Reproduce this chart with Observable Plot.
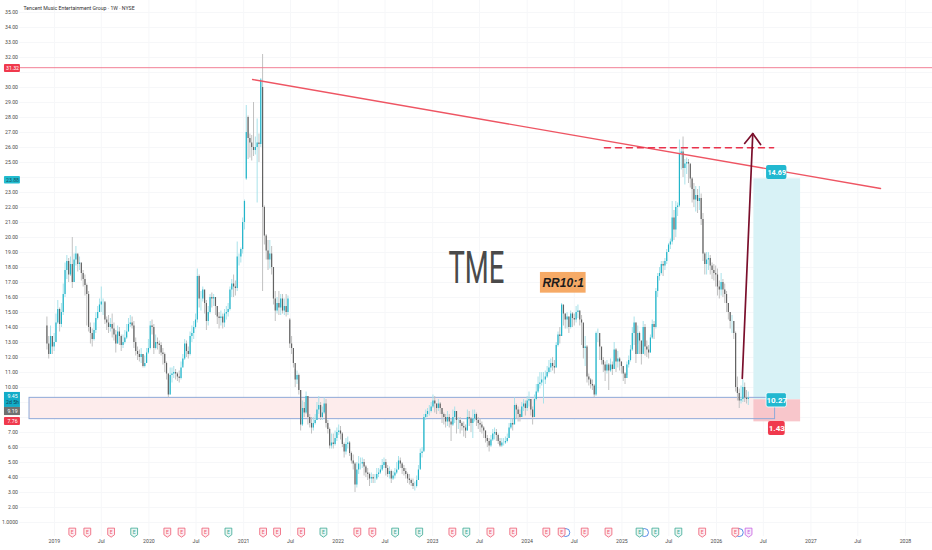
<!DOCTYPE html>
<html><head><meta charset="utf-8">
<script src="https://cdn.jsdelivr.net/npm/d3@7"></script>
<script src="https://cdn.jsdelivr.net/npm/@observablehq/plot@0.6"></script>
<style>html,body{margin:0;padding:0;background:#fff}svg{display:block}</style>
</head><body><div id="chart"></div>
<script>
const closes = [
12.9,12.2,13.4,12.7,13.0,14.3,15.2,14.2,15.0,16.2,
17.8,18.4,17.5,18.2,17.0,18.5,18.9,18.2,18.3,17.6,
17.2,16.8,16.2,14.0,13.6,13.2,13.8,14.6,15.0,15.5,
15.7,15.7,14.5,14.3,14.0,14.2,13.9,13.5,12.9,13.7,
13.4,12.8,13.0,13.3,13.7,14.2,14.3,14.1,13.0,12.4,
12.2,12.0,12.2,11.4,11.6,12.3,12.6,14.1,14.0,12.6,
13.0,12.9,12.8,12.3,12.2,11.6,10.9,9.5,10.8,10.9,
11.0,10.9,10.7,10.6,11.3,11.9,12.9,12.4,12.2,13.4,
13.6,14.0,14.5,17.4,15.9,15.9,16.5,15.6,14.4,15.0,
16.0,15.9,16.0,15.4,14.7,14.6,14.7,14.3,14.9,15.0,
15.2,16.5,16.9,16.7,16.6,18.7,18.7,19.2,21.0,22.4,
27.0,26.6,26.3,26.0,25.8,26.0,26.3,26.2,30.5,22.0,
20.1,19.1,18.5,18.9,18.0,15.9,15.1,15.6,15.3,15.9,
15.1,15.4,15.0,15.9,12.9,12.6,11.6,10.5,10.8,9.8,
7.5,8.6,8.3,9.4,8.0,7.6,7.3,7.6,7.8,8.5,
8.8,8.0,8.3,8.9,7.6,7.2,6.1,6.3,6.2,6.6,
7.0,7.1,6.9,6.2,5.7,6.2,6.3,5.6,5.1,4.9,
3.5,4.5,4.9,4.9,5.0,4.7,4.3,4.2,3.9,4.0,
3.9,3.9,4.2,4.3,4.5,4.8,5.0,4.6,4.2,4.4,
3.9,4.1,4.3,4.5,5.1,4.9,4.6,4.4,4.2,3.9,
3.8,3.6,3.4,3.4,3.8,4.5,5.6,5.7,8.0,8.2,
8.4,8.4,8.7,9.1,8.9,8.6,8.9,8.6,8.2,8.0,
7.7,8.0,7.7,7.5,8.0,8.4,7.8,7.8,7.6,7.4,
7.3,7.1,8.0,7.9,7.6,7.9,8.2,7.8,7.6,7.5,
7.3,7.1,6.6,6.4,6.1,6.5,6.9,7.0,6.8,6.4,
6.1,6.3,6.3,6.4,6.6,7.3,7.6,7.5,8.8,8.5,
8.2,8.0,8.7,8.9,8.6,9.1,9.2,8.5,8.0,9.2,
9.7,10.2,10.3,10.5,10.5,10.7,11.0,11.3,11.6,11.4,
11.3,12.8,13.5,13.4,15.5,14.9,14.5,14.7,14.0,14.9,
14.6,14.5,15.0,15.1,14.5,14.3,12.6,12.7,10.7,10.5,
10.2,10.1,9.5,13.6,13.6,12.7,11.8,11.5,11.1,11.5,
11.1,11.5,11.2,12.5,11.7,11.9,11.7,11.4,10.9,10.6,
11.5,11.8,12.5,13.6,14.3,12.2,13.6,13.1,12.2,14.0,
12.7,12.5,12.3,13.3,14.2,14.0,16.4,17.4,17.6,18.2,
18.1,18.4,19.0,19.5,19.7,21.3,20.5,22.0,22.1,25.6,
25.7,24.6,24.9,25.0,24.9,23.9,23.2,22.5,22.8,22.4,
22.6,21.2,18.9,18.2,18.5,18.6,18.1,17.8,17.6,17.5,
16.7,16.5,17.0,16.5,16.2,15.6,15.0,14.4,14.4,13.6,
10.0,9.6,9.1,9.2,10.0,9.3,9.2,9.3];
const highs = [
14.7,13.4,14.1,13.4,13.6,14.9,15.8,15.3,15.6,16.9,
18.3,18.8,18.6,18.7,20.0,18.9,19.4,18.8,18.7,18.2,
17.8,17.5,16.9,16.4,14.3,13.9,14.3,15.0,15.4,15.9,
16.7,15.9,15.6,14.7,14.8,14.6,14.9,14.3,13.8,14.1,
14.0,13.5,13.5,13.8,14.2,14.6,14.8,14.7,14.4,13.3,
12.7,12.5,12.6,12.2,12.1,12.6,13.2,14.4,14.5,14.2,
13.5,13.3,13.1,13.0,12.6,12.3,11.7,10.9,11.3,11.3,
11.4,11.2,11.0,11.1,11.7,12.2,13.2,13.1,12.7,13.7,
14.1,14.4,14.9,17.9,17.5,16.4,16.7,16.3,15.8,15.4,
16.2,16.3,16.2,16.0,15.4,15.0,15.1,14.9,15.2,15.4,
15.6,16.7,17.2,17.5,17.1,19.7,18.9,19.3,21.3,22.5,
28.8,28.1,26.9,26.8,29.0,26.7,27.9,26.9,30.6,32.2,
22.1,20.2,19.8,19.8,19.4,17.9,16.4,16.0,16.4,16.2,
16.2,15.9,16.2,16.1,14.6,13.4,12.3,11.2,11.1,10.9,
9.8,9.1,9.0,9.7,9.4,8.2,8.0,8.0,8.2,9.0,
9.4,9.0,8.7,9.3,9.2,7.8,7.3,6.9,6.9,7.1,
7.3,7.5,7.4,7.0,6.3,6.6,6.7,6.4,5.7,5.5,
5.0,5.0,5.4,5.3,5.3,5.2,4.8,4.6,4.3,4.3,
4.2,4.2,4.6,4.6,4.8,5.2,5.3,5.2,4.8,4.7,
4.5,4.4,4.6,5.0,5.4,5.3,5.0,4.8,4.6,4.3,
4.2,3.9,3.9,3.7,4.1,4.8,5.9,6.0,8.2,8.5,
8.6,8.8,9.0,9.5,9.4,8.9,9.2,9.0,8.6,8.3,
8.2,8.4,8.2,7.9,8.5,8.7,8.4,8.0,8.0,7.7,
7.7,7.5,8.5,8.4,8.0,8.5,8.5,8.3,8.0,7.9,
7.7,7.4,7.1,6.8,6.6,6.8,7.2,7.3,7.2,6.9,
6.6,6.6,6.6,6.7,6.9,7.6,7.9,7.9,9.3,8.9,
8.7,8.5,9.0,9.2,9.1,9.4,9.7,9.2,8.7,9.5,
10.2,10.7,11.0,11.0,11.0,11.1,11.4,11.8,11.9,12.0,
11.8,13.0,13.7,14.0,15.6,15.3,14.9,15.0,14.7,15.1,
15.0,14.9,15.4,15.5,15.1,14.8,14.0,13.4,12.8,10.9,
10.6,10.5,10.2,13.7,13.9,13.2,12.6,12.0,11.7,11.8,
11.6,11.9,11.7,13.0,12.6,12.4,12.0,11.7,11.4,11.0,
11.7,12.1,12.8,14.0,14.7,14.3,14.1,13.7,12.9,14.4,
14.2,13.1,12.8,13.5,14.5,14.4,16.6,17.6,18.0,18.4,
18.4,18.6,19.2,19.6,19.9,22.4,21.8,22.4,22.3,26.5,
25.9,26.7,25.2,25.3,25.2,24.8,24.0,23.6,23.4,23.2,
23.4,22.9,21.6,19.0,19.0,19.0,18.8,18.3,18.2,18.1,
17.9,17.1,17.6,17.2,16.9,16.4,15.6,15.0,14.8,14.4,
13.7,10.7,9.9,10.1,10.5,10.3,9.8,9.7];
const lows = [
12.5,11.9,12.2,12.2,12.4,13.0,14.2,13.7,14.0,14.8,
16.0,17.2,17.0,17.4,16.6,17.0,18.1,17.7,17.8,17.1,
16.7,16.1,14.1,13.7,12.9,12.7,13.1,13.6,14.5,15.0,
15.0,14.8,14.2,13.8,13.6,13.7,13.3,13.1,12.3,12.9,
12.8,12.4,12.6,12.9,13.2,13.7,14.0,13.9,12.6,12.1,
11.8,11.7,11.6,11.3,11.3,11.7,12.2,12.5,13.5,12.2,
12.5,12.5,12.2,12.1,11.5,11.0,10.5,9.3,9.5,10.3,
10.6,10.5,10.4,10.3,10.5,11.5,11.8,12.0,11.9,12.1,
13.0,13.2,13.9,14.3,15.3,15.1,15.7,14.9,13.8,14.1,
14.9,15.3,15.4,14.8,14.2,13.9,14.1,13.9,14.0,14.5,
14.7,15.1,16.0,16.0,16.1,16.4,18.1,18.3,18.9,20.5,
23.8,25.2,25.3,25.1,25.4,25.5,22.3,25.0,26.0,16.4,
19.5,18.5,17.8,17.9,17.5,15.5,14.4,14.9,14.8,14.8,
14.9,14.8,14.7,14.8,12.6,12.2,11.3,10.0,10.2,9.5,
7.1,7.4,8.0,8.2,7.5,7.3,6.9,7.1,7.5,7.8,
8.2,7.8,7.8,8.2,7.3,6.9,5.9,5.9,5.9,6.1,
6.4,6.8,6.5,6.0,5.3,5.5,5.9,5.4,4.9,4.5,
3.0,3.3,4.2,4.5,4.6,4.1,4.0,3.8,3.4,3.6,
3.6,3.6,3.8,4.0,4.2,4.4,4.6,4.1,4.0,3.9,
3.6,3.8,3.9,4.2,4.5,4.6,4.2,4.1,3.9,3.6,
3.5,3.4,3.2,3.1,3.3,3.8,4.6,5.3,5.8,7.8,
8.0,8.1,8.3,8.6,8.3,8.2,8.4,8.2,7.6,7.5,
7.3,7.4,7.3,6.4,7.4,7.6,6.9,7.2,6.9,7.1,
6.7,6.6,7.1,7.4,7.0,6.6,7.7,7.4,7.2,7.0,
6.9,6.6,6.3,6.0,5.7,6.0,6.4,6.5,6.4,6.2,
6.0,6.0,6.1,6.2,6.3,6.6,7.2,7.1,7.6,7.9,
7.7,7.7,8.0,8.4,8.1,8.4,8.7,8.1,7.5,8.0,
9.1,9.6,9.9,10.1,8.9,10.2,10.6,10.9,11.0,11.1,
10.9,11.3,12.7,12.9,13.6,14.1,13.9,13.9,13.6,13.9,
14.0,14.1,14.3,14.6,14.1,12.8,11.9,11.4,10.3,10.1,
9.9,9.8,9.3,9.4,13.0,11.8,11.5,11.0,10.4,10.9,
9.8,11.0,10.8,11.2,11.0,11.3,11.1,10.9,10.4,10.2,
10.8,11.3,11.7,12.4,12.8,11.6,12.9,12.2,11.5,12.3,
12.1,12.0,11.9,12.3,13.2,13.2,13.9,16.0,17.1,17.5,
17.4,17.8,18.2,19.0,19.2,19.5,19.8,20.0,21.4,22.0,
24.5,24.0,23.5,24.2,23.6,23.3,22.3,22.0,21.7,21.6,
21.8,20.8,18.4,17.5,17.5,17.8,17.5,17.2,17.1,16.7,
16.1,15.9,16.1,16.0,15.6,15.0,14.5,13.9,13.6,13.2,
9.7,9.1,8.6,8.9,9.0,9.0,8.9,8.8];
const gapBars = [110,111,119,134];
const gapOpens = [23.9,28.0,30.0,14.5];

const priceTicks = [1,2,3,4,5,6,7,10,11,12,13,14,15,16,17,18,19,20,21,22,23,25,26,27,28,29,30,32,33,34,35];
const gridPrices = d3.range(1, 36);
const timeTickDates = ["2019-01-01","2019-07-01","2020-01-01","2020-07-01","2021-01-01","2021-07-01","2022-01-01","2022-07-01","2023-01-01","2023-07-01","2024-01-01","2024-07-01","2025-01-01","2025-07-01","2026-01-01","2026-07-01","2027-01-01","2027-07-01","2028-01-01"];

const earningsDates = ["2019-03-11","2019-05-08","2019-08-08","2019-11-05","2020-03-12","2020-05-06","2020-08-06","2020-11-03","2021-03-17","2021-05-10","2021-08-11","2021-11-05","2022-03-16","2022-05-13","2022-08-09","2022-11-10","2023-03-18","2023-05-11","2023-08-12","2023-11-08","2024-03-15","2024-05-13","2024-08-10","2024-11-10","2025-03-10","2025-05-10","2025-08-07","2025-11-07","2026-03-15","2026-05-05"];
const earningsKinds = ["r","r","r","g","r","r","r","g","r","r","r","g","r","r","g","g","r","g","r","r","r","r","r","r","g","g","g","r","r","p"];
const dividendDates = ["2024-05-29","2025-03-29","2026-03-30"];

const trendYears = [2021.094, 2027.736], trendValues = [30.53, 23.27];
const dashYears = [2024.817, 2026.604], dashValues = [25.98, 25.98];
const arrowYears = [2026.273, 2026.384], arrowValues = [10.6, 26.93];
const headYears = [2026.298, 2026.384, 2026.467], headValues = [26.27, 26.93, 26.2];

const yr = y => { const f = Math.floor(y); return new Date(Date.UTC(f,0,1) + (y-f)*365.25*864e5); };
const d = s => new Date(s + "T00:00:00Z");
const start = d("2018-12-03");
const candles = closes.map((c,i) => {
  const g = gapBars.indexOf(i);
  const o = g >= 0 ? gapOpens[g] : (i ? closes[i-1] : 14.1);
  return {t: d3.utcWeek.offset(start, i), o, c, h: highs[i], l: lows[i], up: c >= o};
});
const up = r => r.up, dn = r => !r.up;
const teal = "#22b5ca", dark = "#636363", red = "#f0394d";
const FF = "Roboto, 'Liberation Sans', sans-serif";

const box = (x1,x2,y1,y2,opts) => Plot.rect([0], {x1:yr(x1), x2:yr(x2), y1, y2, ...opts});
const label = (x,y,text,opts) => Plot.text([text], {x:yr(x), y, text:t=>t, fontSize:5.2, fill:"#fff", ...opts});

const shield = {draw(ctx,size){ const s=Math.sqrt(size/Math.PI);
  ctx.moveTo(-s*0.85,-s*1.1); ctx.lineTo(s*0.85,-s*1.1); ctx.lineTo(s*0.85,s*0.55); ctx.lineTo(0,s*1.15); ctx.lineTo(-s*0.85,s*0.55); ctx.closePath(); }};
const kindColor = {r:"#ee5a72", g:"#3aa893", p:"#c660e0"};
const kindFill = {r:"#fdecef", g:"#e8f6f3", p:"#f8ebfc"};
const earnings = earningsDates.map((e,i)=>({t:d(e), k:earningsKinds[i]}));
const earnMarks = ["r","g","p"].flatMap(k => [
  Plot.dot(earnings.filter(e=>e.k===k), {x:"t", y:0.33, symbol:shield, r:4, fill:kindFill[k], stroke:kindColor[k], strokeWidth:0.8}),
  Plot.text(earnings.filter(e=>e.k===k), {x:"t", y:0.36, text:()=>"E", fontSize:5, fill:kindColor[k]})
]);

const chart = Plot.plot({
  width: 932, height: 550,
  marginLeft: 19, marginRight: 0, marginTop: 0, marginBottom: 14,
  style: {fontFamily: FF, fontSize: "5.2px", background: "#fff", color: "#4a4a4a"},
  x: {type: "utc", domain: [yr(2018.63), yr(2028.286)], range: [19, 932]},
  y: {type: "linear", domain: [0.067, 35.8], range: [536, 0]},
  marks: [
    Plot.gridX(timeTickDates.map(d), {stroke:"#f6f7f9", strokeOpacity:1}),
    Plot.gridY(gridPrices, {stroke:"#f6f7f9", strokeOpacity:1}),
    Plot.axisY({ticks: priceTicks, tickSize:0, tickPadding:1.5, label:null, fontSize:5.2, tickFormat: v => v===1 ? "1.0000" : v.toFixed(2)}),
    Plot.axisX({ticks: timeTickDates.map(d), tickSize:0, tickPadding:3, label:null, fontSize:5.2, tickFormat: t => t.getUTCMonth()===0 ? String(t.getUTCFullYear()) : "Jul"}),

    box(2018.736,2026.620,9.31,7.89,{fill:"#fdecec"}),
    box(2026.396,2026.890,23.91,9.18,{fill:"#d8f2f6"}),
    box(2026.396,2026.890,9.18,7.71,{fill:"#f8c6cb"}),
    box(2018.736,2026.620,9.31,7.89,{fill:"none", stroke:"#8fa9d8", strokeWidth:1}),

    Plot.ruleX(candles.filter(up), {x:"t", y1:"l", y2:"h", stroke:"#a9e2ea", strokeWidth:1}),
    Plot.ruleX(candles.filter(dn), {x:"t", y1:"l", y2:"h", stroke:"#c2c2c2", strokeWidth:1}),
    Plot.ruleX(candles.filter(dn), {x:"t", y1:"o", y2:"c", stroke:dark, strokeWidth:1.2}),
    Plot.ruleX(candles.filter(up), {x:"t", y1:"o", y2:"c", stroke:teal, strokeWidth:1.2}),

    Plot.ruleY([31.32], {x1:yr(2018.64), x2:yr(2028.286), stroke:"#f0708a", strokeWidth:0.9}),
    Plot.line(trendYears.map((t,i)=>({t:yr(t), v:trendValues[i]})), {x:"t", y:"v", stroke:"#ee5563", strokeWidth:1.4}),
    Plot.line(dashYears.map((t,i)=>({t:yr(t), v:dashValues[i]})), {x:"t", y:"v", stroke:"#e8324c", strokeWidth:1.6, strokeDasharray:"6,5"}),
    Plot.line(arrowYears.map((t,i)=>({t:yr(t), v:arrowValues[i]})), {x:"t", y:"v", stroke:"#7a0f2c", strokeWidth:1.7}),
    Plot.line(headYears.map((t,i)=>({t:yr(t), v:headValues[i]})), {x:"t", y:"v", stroke:"#7a0f2c", strokeWidth:1.7}),

    box(2024.14,2024.623,17.67,16.29,{fill:"#f6aa66"}),
    label(2024.38,16.96,"RR10:1",{fontSize:12, fontWeight:"bold", fontStyle:"italic", fill:"#1c1c1c", fontFamily:"'Liberation Sans', sans-serif"}),
    label(2023.463,17.93,"TME",{fontSize:44, fontWeight:400, fill:"#4a4a4a"}),
    label(2018.672,35.27,"Tencent Music Entertainment Group · 1W · NYSE",{textAnchor:"start", fill:"#333", fontSize:5.2}),

    box(2026.53,2026.745,24.8,23.87,{fill:"#22b8d0", rx:2}),
    label(2026.638,24.33,"14.69",{fontSize:7.2, fontWeight:"bold"}),
    box(2026.53,2026.745,9.62,8.67,{fill:"#22b8d0", stroke:"#fff", strokeWidth:0.8, rx:2}),
    label(2026.638,9.14,"10.27",{fontSize:8, fontWeight:"bold"}),
    box(2026.55,2026.727,7.73,6.8,{fill:red, rx:2}),
    label(2026.638,7.26,"1.43",{fontSize:8, fontWeight:"bold"}),

    box(2018.471,2018.640,31.53,31.0,{fill:red, rx:1}),
    label(2018.556,31.27,"31.32"),
    box(2018.471,2018.640,24.07,23.57,{fill:"#22bcd0", rx:1}),
    label(2018.556,23.82,"23.88",{fill:"#14505c"}),
    box(2018.471,2018.640,9.67,8.67,{fill:"#12acc8"}),
    label(2018.556,9.44,"9.45"),
    label(2018.556,8.98,"2d 5h",{fill:"#0f4754"}),
    box(2018.471,2018.640,8.67,8.13,{fill:"#707070"}),
    label(2018.556,8.4,"9.19"),
    box(2018.471,2018.640,8.0,7.47,{fill:red, rx:1}),
    label(2018.556,7.73,"7.76"),

    Plot.dot(dividendDates.map(d), {x:t=>t, y:0.33, r:4, fill:"#fff", stroke:"#2f6fe0", strokeWidth:0.8}),
    ...earnMarks
  ]
});
d3.select(chart).selectAll("text").filter(function(){return this.textContent==="TME";})
  .attr("textLength",56).attr("lengthAdjust","spacingAndGlyphs");
document.getElementById("chart").appendChild(chart);
</script></body></html>
